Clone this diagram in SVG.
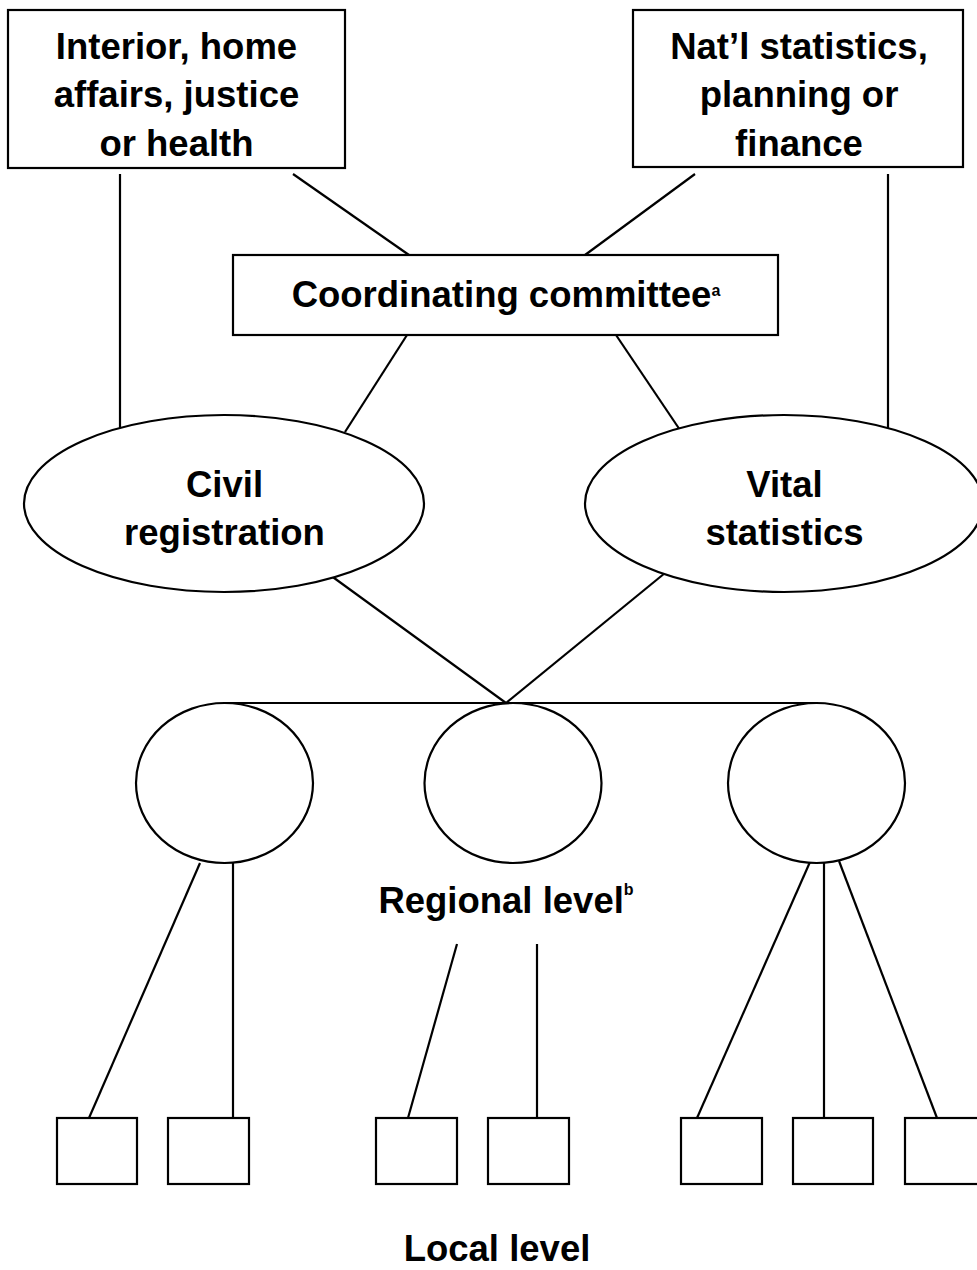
<svg xmlns="http://www.w3.org/2000/svg" width="977" height="1270" viewBox="0 0 977 1270">
<style>
.shape{fill:#fff;stroke:#000;stroke-width:2.2}
.conn line{stroke:#000;stroke-width:2.2}
text{font-family:"Liberation Sans",Arial,Helvetica,sans-serif;font-weight:bold;font-size:36.5px;fill:#000;text-anchor:middle}
.sup{font-size:16px}
</style>
<rect width="977" height="1270" fill="#fff"/>
<g id="connectors" class="conn">
<line x1="120" y1="174" x2="120" y2="428"/>
<line x1="293" y1="174" x2="409" y2="255"/>
<line x1="695" y1="174" x2="585" y2="255"/>
<line x1="888" y1="174" x2="888" y2="429"/>
<line x1="407" y1="335" x2="345" y2="432"/>
<line x1="616" y1="335" x2="680" y2="430"/>
<line x1="330" y1="575" x2="506" y2="703"/>
<line x1="665" y1="573" x2="506" y2="703"/>
<line x1="224" y1="703" x2="817" y2="703"/>
<line x1="200" y1="863" x2="89" y2="1118"/>
<line x1="233" y1="863" x2="233" y2="1118"/>
<line x1="457" y1="944" x2="408" y2="1118"/>
<line x1="537" y1="944" x2="537" y2="1118"/>
<line x1="810" y1="862" x2="697" y2="1118"/>
<line x1="824" y1="863" x2="824" y2="1118"/>
<line x1="839" y1="861" x2="937" y2="1118"/>
</g>
<g id="interior">
<rect class="shape" x="8" y="10" width="337" height="158"/>
<text x="176.5" y="58.5">Interior, home</text>
<text x="176.5" y="107">affairs, justice</text>
<text x="176.5" y="155.5">or health</text>
</g>
<g id="natl-stats">
<rect class="shape" x="633" y="10" width="330" height="157"/>
<text x="799" y="58.5">Nat’l statistics,</text>
<text x="799" y="107">planning or</text>
<text x="799" y="155.5">finance</text>
</g>
<g id="committee">
<rect class="shape" x="233" y="255" width="545" height="80"/>
<text x="506" y="307">Coordinating committee<tspan class="sup" dy="-11">a</tspan></text>
</g>
<g id="civil-registration">
<ellipse class="shape" cx="224" cy="503.5" rx="200" ry="88.5"/>
<text x="224.5" y="497">Civil</text>
<text x="224.5" y="545">registration</text>
</g>
<g id="vital-statistics">
<ellipse class="shape" cx="784" cy="503.5" rx="199" ry="88.5"/>
<text x="784.5" y="497">Vital</text>
<text x="784.5" y="545">statistics</text>
</g>
<g id="region-1"><ellipse class="shape" cx="224.5" cy="783" rx="88.5" ry="80"/></g>
<g id="region-2"><ellipse class="shape" cx="513" cy="783" rx="88.5" ry="80"/></g>
<g id="region-3"><ellipse class="shape" cx="816.5" cy="783" rx="88.5" ry="80"/></g>
<g id="regional-label"><text x="506" y="913">Regional level<tspan class="sup" dy="-18">b</tspan></text></g>
<g id="local-1"><rect class="shape" x="57" y="1118" width="80" height="66"/></g>
<g id="local-2"><rect class="shape" x="168" y="1118" width="81" height="66"/></g>
<g id="local-3"><rect class="shape" x="376" y="1118" width="81" height="66"/></g>
<g id="local-4"><rect class="shape" x="488" y="1118" width="81" height="66"/></g>
<g id="local-5"><rect class="shape" x="681" y="1118" width="81" height="66"/></g>
<g id="local-6"><rect class="shape" x="793" y="1118" width="80" height="66"/></g>
<g id="local-7"><rect class="shape" x="905" y="1118" width="81" height="66"/></g>
<g id="local-label"><text x="497" y="1261">Local level</text></g>
</svg>
